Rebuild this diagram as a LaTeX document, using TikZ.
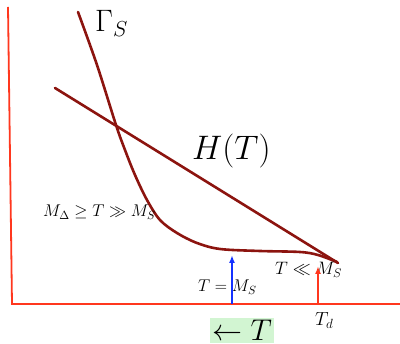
\RequirePackage{fix-cm}
\documentclass[tikz,border=0pt]{standalone}
\usepackage{amsmath}
\usepackage{tikz}
\usetikzlibrary{arrows.meta, positioning}
\definecolor{curveline}{RGB}{140,20,15}
\definecolor{axisline}{RGB}{255,55,30}
\definecolor{arrowblue}{RGB}{20,50,255}
\definecolor{labelgreen}{RGB}{210,245,210}
\tikzset{
  curve/.style={draw=curveline, line width=2.6pt, line cap=round},
  axis/.style={draw=axisline, line width=1.8pt},
  uparrow/.style={-{Latex[length=8pt,width=6pt]}, line width=1.8pt},
  lab/.style={inner sep=0pt, anchor=base west},
  lab-big/.style={lab, font=\fontsize{30}{34}\selectfont},
  lab-small/.style={lab, font=\fontsize{17}{20}\selectfont}
}
\begin{document}
\begin{tikzpicture}[x=1pt, y=-1pt]
  \useasboundingbox (0,0) rectangle (400,344);

  % axes
  \coordinate (ytop) at (8,7);
  \coordinate (origin) at (12,304);
  \coordinate (xend) at (400,304);
  \draw[axis] (ytop) -- (origin) -- (xend);

  % H(T) and Gamma_S
  \coordinate (hstart) at (55,88);
  \coordinate (meet) at (338,263);
  \draw[curve] (hstart) -- (meet);
  \draw[curve] plot[smooth, tension=0.55] coordinates {
    (78,12) (97,65) (116,125) (125,150) (135,175) (147,200) (160,220)
    (177,233) (197,243) (220,249) (260,251) (300,252) (318,255) (337,262)};

  % labels
  \node[lab, font=\fontsize{31}{35}\selectfont] (gamma) at (95,32) {$\Gamma_S$};
  \node[lab, font=\fontsize{34}{38}\selectfont] (hoft) at (192,160) {$H(T)$};
  \node[lab-small] (high) at (43,217) {$M_\Delta \geq T \gg M_S$};
  \node[lab-small] (equal) at (198,292) {$T = M_S$};
  \node[lab, font=\fontsize{18}{21}\selectfont] (low) at (275,275) {$T \ll M_S$};
  \node[lab, font=\fontsize{19}{22}\selectfont] (td) at (315,326) {$T_d$};
  \node[lab-big, fill=labelgreen, inner sep=2pt] (dir) at (210,341) {$\leftarrow T$};

  % markers on the axis
  \coordinate (msbase) at (232,304);
  \coordinate (mstip) at (232,255);
  \coordinate (tdbase) at (318,304);
  \coordinate (tdtip) at (318,266);
  \draw[uparrow, draw=arrowblue, fill=arrowblue] (msbase) -- (mstip);
  \draw[uparrow, draw=axisline, fill=axisline] (tdbase) -- (tdtip);
\end{tikzpicture}
\end{document}
